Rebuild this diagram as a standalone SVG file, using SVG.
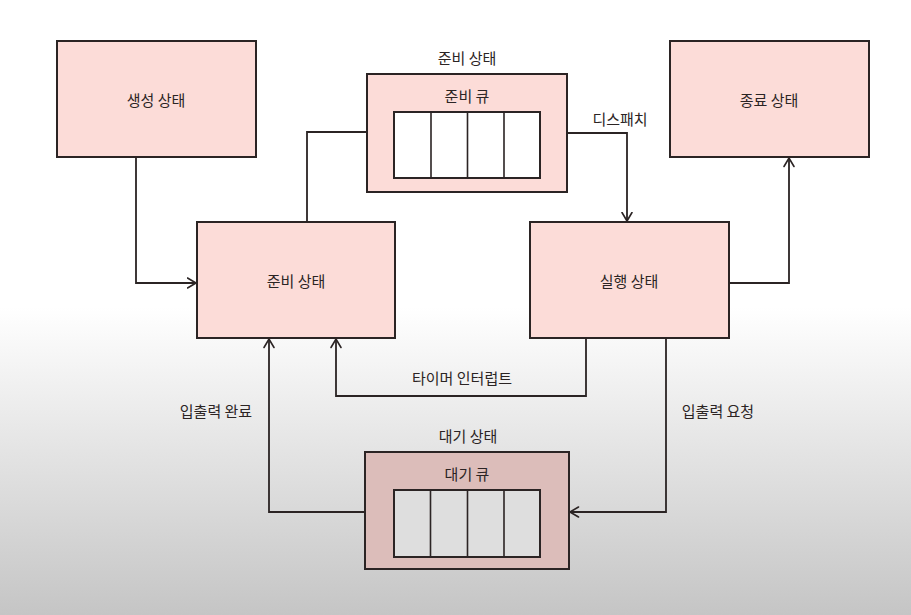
<svg xmlns="http://www.w3.org/2000/svg" width="911" height="615" viewBox="0 0 911 615">
<defs>
<linearGradient id="bg" x1="0" y1="0" x2="0" y2="615" gradientUnits="userSpaceOnUse">
<stop offset="0" stop-color="#ffffff"/>
<stop offset="0.5" stop-color="#ffffff"/>
<stop offset="0.62" stop-color="#f1f1f1"/>
<stop offset="1" stop-color="#c5c5c5"/>
</linearGradient>
<marker id="arr" viewBox="0 0 10 12" refX="9.5" refY="6" markerWidth="10" markerHeight="12" markerUnits="userSpaceOnUse" orient="auto">
<path d="M1,1 L9.5,6 L1,11" fill="none" stroke="#2b2424" stroke-width="1.6" stroke-linecap="round" stroke-linejoin="round"/>
</marker>
<style>
.box{fill:#fcdcd8;stroke:#2b2424;stroke-width:2}
.boxw{fill:#dcbdba;stroke:#2b2424;stroke-width:2}
.q{fill:#ffffff;stroke:#2b2424;stroke-width:2}
.qw{fill:#dedede;stroke:#2b2424;stroke-width:2}
.div{stroke:#2b2424;stroke-width:1.6;fill:none}
.t{font-family:"Noto Sans CJK KR","Noto Sans",sans-serif;font-size:15px;fill:#2b2424;text-anchor:middle;dominant-baseline:central}
.c{fill:none;stroke:#2b2424;stroke-width:1.8;stroke-linejoin:miter}
</style>
</defs>
<rect x="0" y="0" width="911" height="615" fill="url(#bg)"/>

<g id="new">
<rect class="box" x="57" y="41" width="199" height="116"/>
<text class="t" x="156" y="99">생성 상태</text>
</g>

<g id="ready-queue">
<text class="t" x="467" y="57">준비 상태</text>
<rect class="box" x="367" y="74" width="200" height="118"/>
<text class="t" x="467" y="95">준비 큐</text>
<rect class="q" x="394" y="112" width="146" height="66"/>
<path class="div" d="M431,112 V178 M467.5,112 V178 M504,112 V178"/>
</g>

<g id="terminated">
<rect class="box" x="670" y="41" width="199" height="116"/>
<text class="t" x="769" y="99">종료 상태</text>
</g>

<g id="ready">
<rect class="box" x="197" y="222" width="198" height="116"/>
<text class="t" x="296" y="280">준비 상태</text>
</g>

<g id="running">
<rect class="box" x="530" y="222" width="199" height="116"/>
<text class="t" x="629" y="280">실행 상태</text>
</g>

<g id="waiting">
<text class="t" x="468" y="435">대기 상태</text>
<rect class="boxw" x="365" y="452" width="204" height="117"/>
<text class="t" x="467" y="473">대기 큐</text>
<rect class="qw" x="394" y="490" width="146" height="67"/>
<path class="div" d="M430.5,490 V557 M467.5,490 V557 M504,490 V557"/>
</g>

<g id="connectors">
<path class="c" d="M136,157 V283 H196" marker-end="url(#arr)"/>
<path class="c" d="M307,222 V132 H367"/>
<path class="c" d="M567,133 H627 V221" marker-end="url(#arr)"/>
<text class="t" x="620" y="118">디스패치</text>
<path class="c" d="M729,283 H789 V158" marker-end="url(#arr)"/>
<path class="c" d="M586,338 V396 H336 V339" marker-end="url(#arr)"/>
<text class="t" x="462" y="377">타이머 인터럽트</text>
<path class="c" d="M666,338 V512 H570" marker-end="url(#arr)"/>
<text class="t" x="718" y="410">입출력 요청</text>
<path class="c" d="M365,512 H269 V339" marker-end="url(#arr)"/>
<text class="t" x="216" y="410">입출력 완료</text>
</g>
</svg>
